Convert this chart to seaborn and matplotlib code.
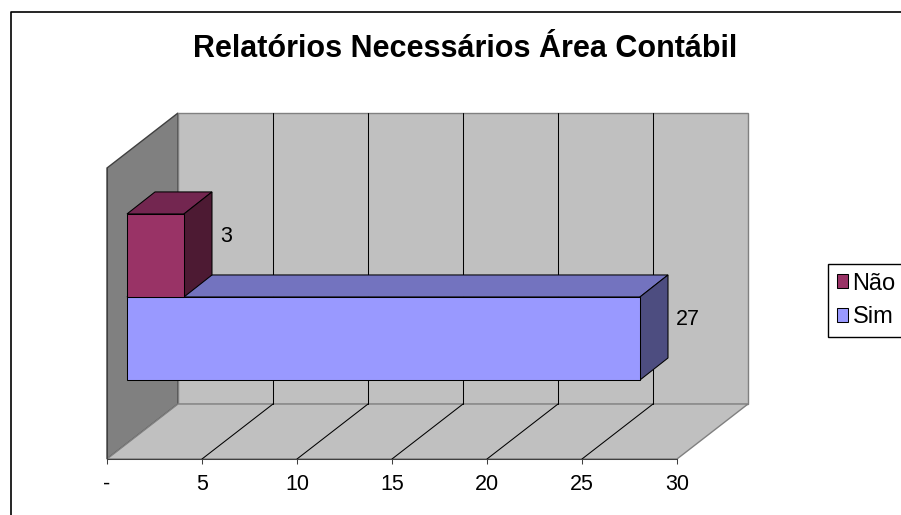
import matplotlib
matplotlib.use('Agg')
import matplotlib.pyplot as plt
import matplotlib.transforms as mtransforms
from matplotlib.patches import Polygon, Rectangle
from matplotlib.lines import Line2D
import seaborn as sns
import pandas as pd

# dados do grafico
categoria = ['Relatórios']
respostas = ['Não', 'Sim']
valores = [3, 27]
cores = ['#993366', '#9999FF']
cores_topo = ['#732650', '#7373BF']
cores_lado = ['#4D1A33', '#4D4D80']
ticks = [0, 5, 10, 15, 20, 25, 30]
tick_labels = ['-', '5', '10', '15', '20', '25', '30']
titulo = 'Relatórios Necessários Área Contábil'

# geometria do "3D" (pixels)
W, H = 901, 515
WALL_DEPTH = (71, 55)
BAR_OFFSET = (20, 15.5)
BAR_DEPTH = (28, 22)
FS = 15.5

sns.set_style('white')
plt.rcParams['font.family'] = ['Liberation Sans', 'DejaVu Sans']
plt.rcParams['text.color'] = 'black'

df = pd.DataFrame({'grupo': categoria * len(respostas), 'resposta': respostas, 'valor': valores})

fig = plt.figure(figsize=(W / 100, H / 100), dpi=100)
ax = fig.add_axes([107 / W, 56 / H, 570 / W, 291 / H])
sns.barplot(data=df, x='valor', y='grupo', hue='resposta', hue_order=respostas,
            palette=cores, orient='h', saturation=1, edgecolor='black',
            linewidth=0.75, legend=False, ax=ax)
ax.set_xlim(0, 30)
ax.set_ylim(0.706, -0.696)
ax.patch.set_visible(False)
ax.set_xlabel('')
ax.set_ylabel('')
ax.set_yticks([])
ax.set_xticks(ticks, tick_labels)
ax.tick_params(axis='x', bottom=True, direction='out', length=3.6, width=0.75,
               color='#404040', labelcolor='black', labelsize=FS, pad=7)
for s in ['top', 'right']:
    ax.spines[s].set_visible(False)
for s in ['bottom', 'left']:
    ax.spines[s].set_color('#404040')
    ax.spines[s].set_linewidth(0.75)
    ax.spines[s].set_zorder(2)

ident = mtransforms.IdentityTransform()
dx, dy = WALL_DEPTH


def px_axes(u, v):
    return ax.transAxes.transform((u, v))


def back(p):
    return (p[0] + dx, p[1] + dy)


fl_b, fl_t = px_axes(0, 0), px_axes(0, 1)
fr_b, fr_t = px_axes(1, 0), px_axes(1, 1)

# paredes e piso
walls = [
    ([fl_b, fl_t, back(fl_t), back(fl_b)], '#808080', '#404040'),
    ([back(fl_b), back(fl_t), back(fr_t), back(fr_b)], '#C0C0C0', '#808080'),
    ([fl_b, fr_b, back(fr_b), back(fl_b)], '#C0C0C0', '#808080'),
]
for pts, fc, ec in walls:
    ax.add_patch(Polygon(pts, closed=True, fc=fc, ec=ec, lw=1.0,
                         transform=ident, clip_on=False, zorder=0.5))

# linhas de grade (piso e parede de fundo)
for v in ticks[1:-1]:
    front = ax.transData.transform((v, ax.get_ylim()[0]))
    top_back = (front[0] + dx, fl_t[1] + dy)
    ax.add_line(Line2D([front[0], front[0] + dx], [front[1], front[1] + dy],
                       color='black', lw=0.75, transform=ident, clip_on=False, zorder=1))
    ax.add_line(Line2D([front[0] + dx, top_back[0]], [front[1] + dy, top_back[1]],
                       color='black', lw=0.75, transform=ident, clip_on=False, zorder=1))

# barras em 3D
bars = [p for p in ax.patches if isinstance(p, Rectangle) and p.get_width() > 0]
info = []
for p in bars:
    k = min(range(len(valores)), key=lambda i: abs(valores[i] - p.get_width()))
    a = ax.transData.transform((p.get_x(), p.get_y()))
    b = ax.transData.transform((p.get_x() + p.get_width(), p.get_y() + p.get_height()))
    L, R = min(a[0], b[0]) + BAR_OFFSET[0], max(a[0], b[0]) + BAR_OFFSET[0]
    B, T = min(a[1], b[1]) + BAR_OFFSET[1], max(a[1], b[1]) + BAR_OFFSET[1]
    info.append((B, p, k, L, R, T))
info.sort(key=lambda t: t[0])

bdx, bdy = BAR_DEPTH
for i, (B, p, k, L, R, T) in enumerate(info):
    z = 3 + 2 * i
    p.set_transform(ax.transData + mtransforms.ScaledTranslation(
        BAR_OFFSET[0] / 100, BAR_OFFSET[1] / 100, fig.dpi_scale_trans))
    p.set_clip_on(False)
    p.set_zorder(z + 1)
    topo = [(L, T), (R, T), (R + bdx, T + bdy), (L + bdx, T + bdy)]
    lado = [(R, B), (R, T), (R + bdx, T + bdy), (R + bdx, B + bdy)]
    ax.add_patch(Polygon(topo, closed=True, fc=cores_topo[k], ec='black', lw=0.75,
                         transform=ident, clip_on=False, zorder=z))
    ax.add_patch(Polygon(lado, closed=True, fc=cores_lado[k], ec='black', lw=0.75,
                         transform=ident, clip_on=False, zorder=z))
    cy = (B + T) / 2 + bdy
    ax.text(R + bdx + 8, cy - 9, str(valores[k]), fontsize=FS, color='black',
            ha='left', va='baseline', transform=ident, zorder=10)

# titulo
fig.text(465 / W, 1 - 57 / H, titulo, ha='center', va='baseline', color='black',
         fontsize=22, fontweight='bold')

# legenda
handles = [Rectangle((0, 0), 1, 1, fc=c, ec='black', lw=0.75) for c in cores]
leg = ax.legend(handles, respostas, loc='upper left', bbox_to_anchor=(828 / W, 1 - 264 / H),
                bbox_transform=fig.transFigure, frameon=True, fancybox=False,
                edgecolor='black', framealpha=1, fontsize=17, handlelength=0.5,
                handleheight=0.5, handletextpad=0.18, borderpad=0.36,
                labelspacing=0.5, borderaxespad=0)
leg.get_frame().set_linewidth(1.0)
for t in leg.get_texts():
    t.set_color('black')

# borda do grafico
fig.add_artist(Line2D([11 / W, 11 / W, 1.02], [-0.02, 1 - 12 / H, 1 - 12 / H],
                      transform=fig.transFigure, color='black', lw=1.2))

fig.savefig('out.png', dpi=100)
